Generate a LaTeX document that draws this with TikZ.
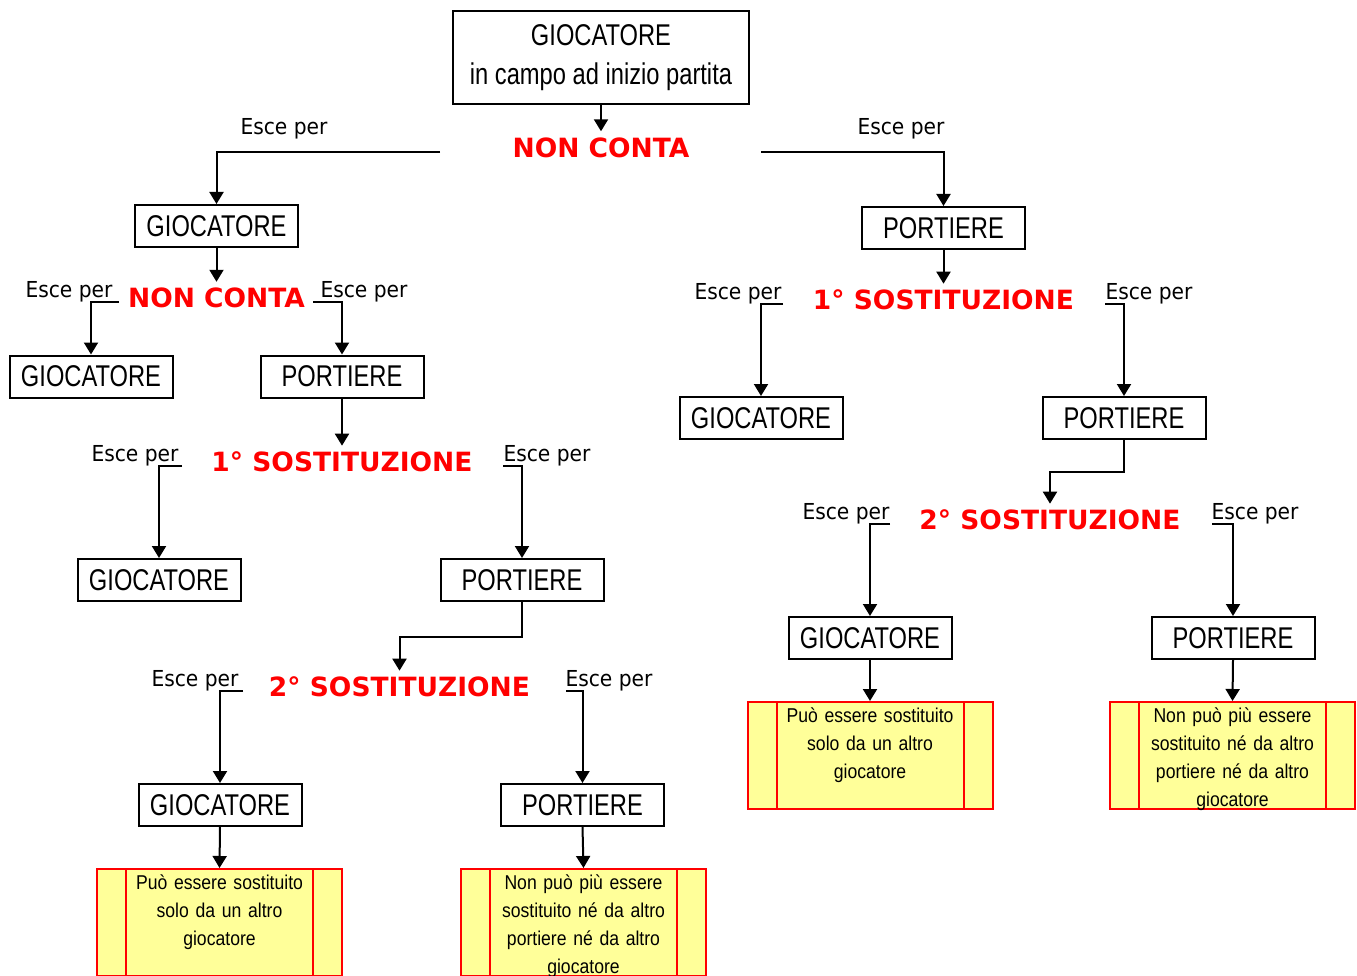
\documentclass[tikz,border=0pt]{standalone}
\usepackage{fontspec}
\usepackage{tikz}
\usetikzlibrary{arrows.meta}
\newfontfamily\boxfont[FakeStretch=0.79]{Liberation Sans}
\newfontfamily\notefont[FakeStretch=0.88]{Liberation Sans}
\newfontfamily\tahfont[FakeStretch=0.92]{DejaVu Sans}
\newfontfamily\tahboldfont{DejaVu Sans Bold}
\definecolor{noteyellow}{RGB}{255,255,153}

\begin{document}
\begin{tikzpicture}[x=1pt, y=-1pt,
    player/.style={draw, line width=2pt, minimum width=163pt, minimum height=42pt, inner sep=0pt,
      font=\boxfont\fontsize{30}{33}\selectfont},
    stage/.style={text=red, inner sep=6pt, font=\tahboldfont\fontsize{26.5}{30}\selectfont},
    esce/.style={inner sep=0pt, font=\tahfont\fontsize{22}{24}\selectfont},
    note/.style={draw=red, fill=noteyellow, line width=2pt, minimum width=245pt,
      text height=20.5pt, text depth=86.5pt, text width=180pt, align=center, inner sep=0pt,
      font=\notefont\fontsize{20}{28}\selectfont},
    noteline/.style={red, line width=2pt},
    arr/.style={line width=2pt, -{Triangle[width=14pt,length=12pt]}}]
    \useasboundingbox (0,0) rectangle (1357,976);

    % Start
    \node[player, minimum width=296pt, minimum height=93pt, align=center,
      font=\boxfont\fontsize{30}{39}\selectfont] (start) at (601,58) {GIOCATORE\\in campo ad inizio partita};
    \node[stage] (nc0) at (601,147.5) {NON CONTA};
    \draw[arr] (start.south) -- (nc0.north);

    % Free ends of the branches
    \coordinate (t1) at (440,152);
    \coordinate (t2) at (761,152);
    \coordinate (c1) at (119,302);
    \coordinate (c2) at (313,302);
    \coordinate (c3) at (182,466);
    \coordinate (c4) at (503,466);
    \coordinate (c5) at (243,691);
    \coordinate (c6) at (566,691);
    \coordinate (c7) at (783,304);
    \coordinate (c8) at (1105,304);
    \coordinate (c9) at (890,524);
    \coordinate (c10) at (1212,524);

    % Left branch: GIOCATORE
    \node[esce] (e1) at (284,129) {Esce per};
    \node[player] (gA) at (216.5,226) {GIOCATORE};
    \draw[arr] (t1) -| (gA.north);
    \node[stage] (ncA) at (216.5,298) {NON CONTA};
    \draw[arr] (gA.south) -- (ncA.north);

    \node[esce] (e2) at (69,292) {Esce per};
    \node[player] (gB) at (91,376.5) {GIOCATORE};
    \draw[arr] (c1) -| (gB.north);
    \node[esce] (e3) at (364,292) {Esce per};
    \node[player] (pC) at (342,376.5) {PORTIERE};
    \draw[arr] (c2) -| (pC.north);

    \node[stage] (ss1a) at (342,462) {1° SOSTITUZIONE};
    \draw[arr] (pC.south) -- (ss1a.north);
    \node[esce] (e4) at (135,456) {Esce per};
    \node[player] (gD) at (159,580) {GIOCATORE};
    \draw[arr] (c3) -| (gD.north);
    \node[esce] (e5) at (547,456) {Esce per};
    \node[player] (pE) at (522,580) {PORTIERE};
    \draw[arr] (c4) -| (pE.north);

    \node[stage] (ss2a) at (399.5,687) {2° SOSTITUZIONE};
    \draw[arr] (pE.south) -- ++(0,35) -| (ss2a.north);
    \node[esce] (e6) at (195,681) {Esce per};
    \node[player] (gF) at (220,805) {GIOCATORE};
    \draw[arr] (c5) -| (gF.north);
    \node[esce] (e7) at (609,681) {Esce per};
    \node[player] (pG) at (582.5,805) {PORTIERE};
    \draw[arr] (c6) -| (pG.north);

    % Notes, left branch
    \node[note] (nF) at (219.5,922.5) {Può essere sostituito\\solo da un altro\\giocatore};
    \draw[noteline] ([xshift=30pt]nF.north west) -- ([xshift=30pt]nF.south west);
    \draw[noteline] ([xshift=-30pt]nF.north east) -- ([xshift=-30pt]nF.south east);
    \draw[arr] (gF.south) -- (nF.north);
    \node[note] (nG) at (583.5,922.5) {Non può più essere\\sostituito né da altro\\portiere né da altro\\giocatore};
    \draw[noteline] ([xshift=30pt]nG.north west) -- ([xshift=30pt]nG.south west);
    \draw[noteline] ([xshift=-30pt]nG.north east) -- ([xshift=-30pt]nG.south east);
    \draw[arr] (pG.south) -- (nG.north);

    % Right branch: PORTIERE
    \node[esce] (e8) at (901,129) {Esce per};
    \node[player] (pJ) at (943.5,228) {PORTIERE};
    \draw[arr] (t2) -| (pJ.north);
    \node[stage] (ss1b) at (943.5,300) {1° SOSTITUZIONE};
    \draw[arr] (pJ.south) -- (ss1b.north);

    \node[esce] (e9) at (738,294) {Esce per};
    \node[player] (gK) at (761,418) {GIOCATORE};
    \draw[arr] (c7) -| (gK.north);
    \node[esce] (e10) at (1149,294) {Esce per};
    \node[player] (pL) at (1124,418) {PORTIERE};
    \draw[arr] (c8) -| (pL.north);

    \node[stage] (ss2b) at (1050,520) {2° SOSTITUZIONE};
    \draw[arr] (pL.south) -- ++(0,32) -| (ss2b.north);
    \node[esce] (e11) at (846,514) {Esce per};
    \node[player] (gM) at (870,638) {GIOCATORE};
    \draw[arr] (c9) -| (gM.north);
    \node[esce] (e12) at (1255,514) {Esce per};
    \node[player] (pN) at (1233,638) {PORTIERE};
    \draw[arr] (c10) -| (pN.north);

    % Notes, right branch
    \node[note] (nM) at (870,755.5) {Può essere sostituito\\solo da un altro\\giocatore};
    \draw[noteline] ([xshift=30pt]nM.north west) -- ([xshift=30pt]nM.south west);
    \draw[noteline] ([xshift=-30pt]nM.north east) -- ([xshift=-30pt]nM.south east);
    \draw[arr] (gM.south) -- (nM.north);
    \node[note] (nN) at (1232.5,755.5) {Non può più essere\\sostituito né da altro\\portiere né da altro\\giocatore};
    \draw[noteline] ([xshift=30pt]nN.north west) -- ([xshift=30pt]nN.south west);
    \draw[noteline] ([xshift=-30pt]nN.north east) -- ([xshift=-30pt]nN.south east);
    \draw[arr] (pN.south) -- (nN.north);
\end{tikzpicture}
\end{document}
